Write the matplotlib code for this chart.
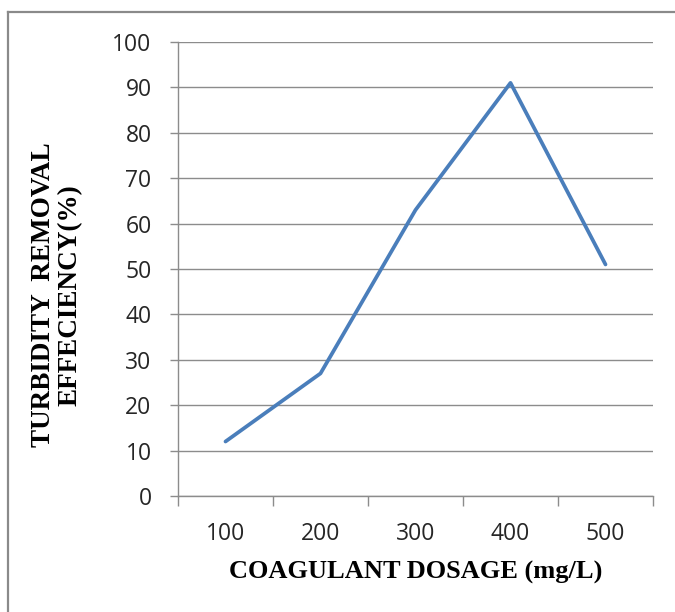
import matplotlib
matplotlib.use('Agg')
import matplotlib.pyplot as plt
from matplotlib.lines import Line2D
import numpy as np

# data
dosage = ['100', '200', '300', '400', '500']
efficiency = [12, 27, 63, 91, 51]
y_ticks = [0, 10, 20, 30, 40, 50, 60, 70, 80, 90, 100]

W, H = 675, 612
fig = plt.figure(figsize=(W / 100, H / 100), dpi=100)
ax = fig.add_axes([178 / W, 1 - 496 / H, (653 - 178) / W, (496 - 42) / H])

x = np.arange(len(dosage))
ax.plot(x, efficiency, color='#4A7EBB', linewidth=2.7, solid_capstyle='round',
        solid_joinstyle='round')

grid_col = '#8C8C8C'
ax.set_ylim(0, 100)
ax.set_yticks(y_ticks)
ax.set_yticklabels([str(v) for v in y_ticks])
ax.set_xlim(-0.5, len(dosage) - 0.5)
ax.set_xticks(np.arange(len(dosage) + 1) - 0.5)
ax.set_xticklabels([])
ax.set_xticks(x, minor=True)
ax.set_xticklabels(dosage, minor=True)

ax.yaxis.grid(True, color=grid_col, linewidth=1.0)
ax.set_axisbelow(True)
for s in ['top', 'right']:
    ax.spines[s].set_visible(False)
for s in ['left', 'bottom']:
    ax.spines[s].set_color(grid_col)
    ax.spines[s].set_linewidth(1.0)

ax.tick_params(axis='y', which='major', length=6, width=1, color=grid_col, pad=13)
ax.tick_params(axis='x', which='major', length=7, width=1, color=grid_col)
ax.tick_params(axis='x', which='minor', length=0, pad=19)
for lab in ax.get_yticklabels() + ax.get_xticklabels(minor=True):
    lab.set_fontfamily('Open Sans')
    lab.set_fontsize(16.5)
    lab.set_color('#262626')

fig.text(416 / W, 1 - 572 / H, 'COAGULANT DOSAGE (mg/L)',
         family='Liberation Serif', weight='bold', size=19,
         ha='center', va='center')
fig.text(57 / W, 1 - 295 / H, 'TURBIDITY  REMOVAL\nEFFECIENCY(%)',
         family='Liberation Serif', weight='bold', size=19.5,
         ha='center', va='center', rotation=90, multialignment='center',
         linespacing=1.1)

# chart frame (cropped at right and bottom)
frame_col = '#8A8A8A'
fig.add_artist(Line2D([7.5 / W, 7.5 / W], [0, 1 - 12 / H], transform=fig.transFigure,
                      color=frame_col, linewidth=1.6))
fig.add_artist(Line2D([7.5 / W, 1], [1 - 12 / H, 1 - 12 / H], transform=fig.transFigure,
                      color=frame_col, linewidth=1.6))

fig.savefig('out.png', dpi=100)
